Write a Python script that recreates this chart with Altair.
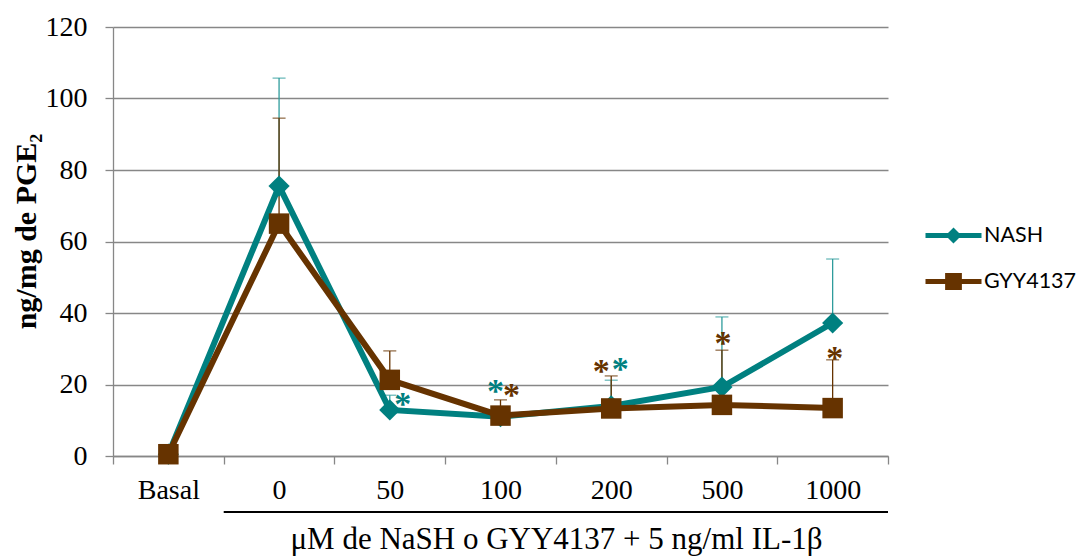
import altair as alt
import pandas as pd

CATEGORIES = ["Basal", "0", "50", "100", "200", "500", "1000"]
SERIES = ["NASH", "GYY4137"]
NASH = [0.5, 75.5, 12.9, 11.0, 14.0, 19.3, 37.2]
NASH_UPPER = [None, 105.7, 17.0, 12.5, 21.2, 38.9, 55.1]
GYY = [0.5, 65.0, 21.3, 11.3, 13.3, 14.3, 13.4]
GYY_UPPER = [None, 94.5, 29.4, 15.7, 22.4, 29.6, 26.9]
Y_TICKS = [0, 20, 40, 60, 80, 100, 120]

AST_CATS = ["50", "100", "100", "200", "200", "500", "1000"]
AST_SERIES = ["NASH", "NASH", "GYY4137", "GYY4137", "NASH", "GYY4137", "GYY4137"]
AST_Y = [16.8, 20.4, 19.3, 26.1, 26.6, 33.9, 29.6]
AST_DX = [13, -5, 11, -10, 9, 1, 2]

BRACKET_START = ["0"]
BRACKET_END = ["1000"]

TEAL = "#008080"
TEAL_ERR = "#2f9c9c"
BROWN = "#663300"
GRID = "#878787"
COLORS = {"NASH": TEAL, "GYY4137": BROWN}
ERR_COLORS = {"NASH": TEAL_ERR, "GYY4137": BROWN}
SHAPES = {"NASH": "diamond", "GYY4137": "square"}
SIZES = {"NASH": 450, "GYY4137": 420}

# legend symbols: line + marker (nested outlines fill the marker)
LEG_NASH = "M-1,0H1M-0.16,0L0,-0.16L0.16,0L0,0.16ZM-0.07,0L0,-0.07L0.07,0L0,0.07Z"
LEG_GYY = "M-1,0H1M-0.21,-0.21H0.21V0.21H-0.21ZM-0.1,-0.1H0.1V0.1H-0.1Z"

W, H = 775, 429

x_enc = alt.X(
    "cat:N",
    scale=alt.Scale(domain=CATEGORIES, paddingInner=0, paddingOuter=0),
    axis=alt.Axis(
        title="μM de NaSH o GYY4137 + 5 ng/ml IL-1β",
        labelAngle=0,
        tickBand="extent",
        grid=False,
        tickSize=8,
        tickWidth=1.3,
        tickColor=GRID,
        domainColor=GRID,
        domainWidth=1.3,
        labelPadding=12,
        labelFont="Liberation Serif",
        labelFontSize=28,
        labelColor="black",
        titleFont="Liberation Serif",
        titleFontSize=31,
        titleFontWeight="normal",
        titleColor="black",
        titleX=443,
        titleY=92,
        titleBaseline="alphabetic",
    ),
)
y_scale = alt.Scale(domain=[0, 120], nice=False)
y_enc = alt.Y(
    "v:Q",
    scale=y_scale,
    axis=alt.Axis(
        values=Y_TICKS,
        title="ng/mg de PGE₂",
        grid=True,
        gridColor=GRID,
        gridWidth=1.3,
        tickSize=8,
        tickWidth=1.3,
        tickColor=GRID,
        domainColor=GRID,
        domainWidth=1.3,
        labelPadding=18,
        labelFont="Liberation Serif",
        labelFontSize=28,
        labelColor="black",
        titleFont="Liberation Serif",
        titleFontSize=30,
        titleFontWeight="bold",
        titleColor="black",
        titleX=-87,
        titleY=204,
        titleBaseline="middle",
    ),
)

layers = []
series_vals = {"NASH": (NASH, NASH_UPPER), "GYY4137": (GYY, GYY_UPPER)}

# error bars (upper only)
for s in SERIES:
    vals, ups = series_vals[s]
    d = pd.DataFrame({"cat": CATEGORIES, "v": vals, "u": ups}).dropna()
    base = alt.Chart(d)
    layers.append(
        base.mark_rule(strokeWidth=1.3, color=ERR_COLORS[s]).encode(
            x=x_enc, y=y_enc, y2="u:Q"
        )
    )
    layers.append(
        base.mark_tick(orient="horizontal", size=13, thickness=1.3, color=ERR_COLORS[s]).encode(
            x=x_enc, y=alt.Y("u:Q", scale=y_scale)
        )
    )

# lines and markers
for s in SERIES:
    vals, ups = series_vals[s]
    d = pd.DataFrame({"cat": CATEGORIES, "v": vals})
    base = alt.Chart(d)
    layers.append(
        base.mark_line(strokeWidth=6, color=COLORS[s]).encode(
            x=x_enc, y=y_enc, order=alt.Order("idx:Q")
        ).transform_calculate(idx="indexof(%s, datum.cat)" % str(CATEGORIES))
    )
    layers.append(
        base.mark_point(filled=True, opacity=1, shape=SHAPES[s], size=SIZES[s], color=COLORS[s]).encode(
            x=x_enc, y=y_enc
        )
    )

# asterisks
for c, s, yv, dx in zip(AST_CATS, AST_SERIES, AST_Y, AST_DX):
    d = pd.DataFrame({"cat": [c], "v": [yv], "txt": ["*"]})
    layers.append(
        alt.Chart(d).mark_text(
            font="Liberation Serif", fontSize=34, fontWeight="bold", baseline="alphabetic",
            align="center", dx=dx, dy=19, color=COLORS[s]
        ).encode(x=x_enc, y=y_enc, text="txt:N")
    )

# bracket under the dose labels
br = pd.DataFrame({"cat": BRACKET_START, "end": BRACKET_END})
layers.append(
    alt.Chart(br).mark_rule(color="black", strokeWidth=2).encode(
        x=alt.X("cat:N", scale=alt.Scale(domain=CATEGORIES), bandPosition=0),
        x2=alt.X2("end", bandPosition=1),
        y=alt.value(H + 56),
    )
)

# legend layer (marks clipped away, legend only)
leg = pd.DataFrame({"cat": CATEGORIES[:2], "series": SERIES})
layers.append(
    alt.Chart(leg).mark_point(filled=False, clip=True, strokeWidth=5, opacity=1).encode(
        x=x_enc,
        y=alt.datum(-200, scale=y_scale),
        color=alt.Color(
            "series:N",
            scale=alt.Scale(domain=SERIES, range=[TEAL, BROWN]),
            legend=alt.Legend(title=None),
        ),
        shape=alt.Shape(
            "series:N",
            scale=alt.Scale(domain=SERIES, range=[LEG_NASH, LEG_GYY]),
            legend=alt.Legend(title=None),
        ),
    )
)

chart = alt.layer(*layers).properties(
    width=W,
    height=H,
    autosize=alt.AutoSizeParams(type="none"),
    padding={"left": 105, "top": 19, "right": 188, "bottom": 100},
).configure_view(stroke=None).configure_legend(
    orient="none",
    legendX=810,
    legendY=178,
    labelFont="Lato",
    labelFontSize=21.5,
    labelColor="black",
    symbolSize=3136,
    symbolStrokeWidth=5,
    labelOffset=0,
    rowPadding=1,
)

chart.save("out.html", embed_options={"renderer": "svg", "actions": False})
